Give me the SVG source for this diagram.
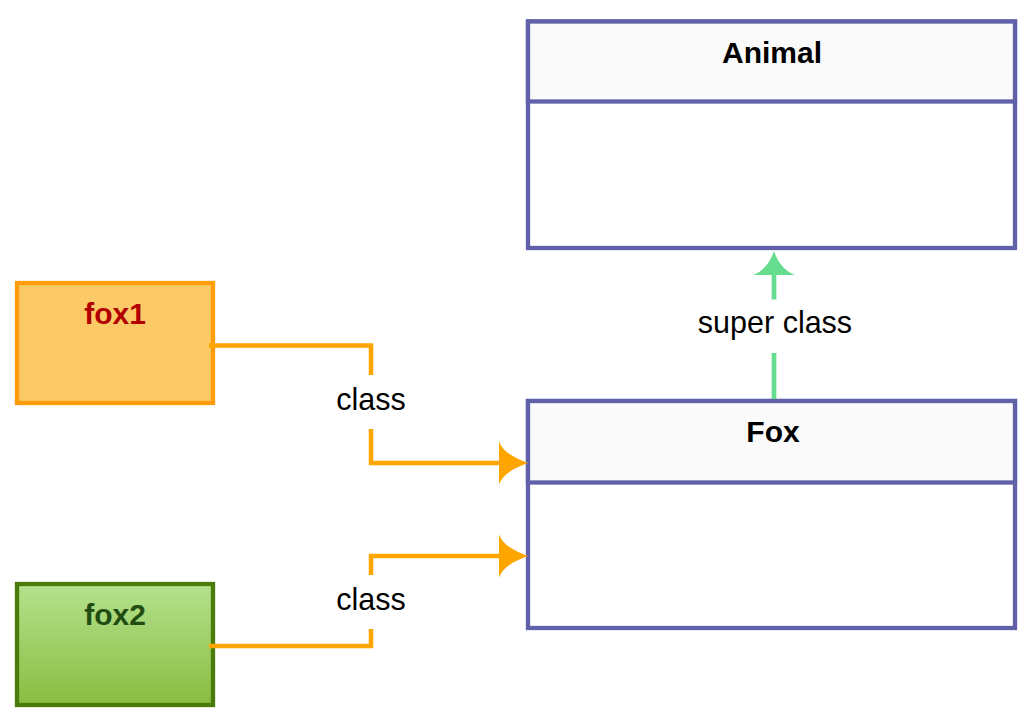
<svg xmlns="http://www.w3.org/2000/svg" width="1032" height="722" viewBox="0 0 1032 722">
  <style>
    .cls rect.box { fill: url(#bodyGrad); stroke: #6161AA; stroke-width: 4.3; }
    .cls rect.head { fill: #FAFAFA; stroke: #6161AA; stroke-width: 4.3; }
    .title { font-family: "Liberation Sans", Arial, sans-serif; font-weight: bold; font-size: 30px; text-anchor: middle; }
    .lbl { font-family: "Liberation Sans", Arial, sans-serif; font-size: 30.5px; text-anchor: middle; fill: #000; }
    .orange { fill: none; stroke: #FFA500; stroke-width: 4.5; stroke-linejoin: miter; }
    .green { fill: none; stroke: #66DD8E; stroke-width: 4.7; }
  </style>
  <defs>
    <linearGradient id="bodyGrad" x1="0" y1="0" x2="0" y2="1">
      <stop offset="0" stop-color="#F9F9F9"/>
      <stop offset="0.4" stop-color="#FFFFFF"/>
      <stop offset="1" stop-color="#FFFFFF"/>
    </linearGradient>
    <linearGradient id="greenGrad" x1="0" y1="0" x2="0" y2="1">
      <stop offset="0" stop-color="#B4E18C"/>
      <stop offset="1" stop-color="#88BD40"/>
    </linearGradient>
  </defs>
  <rect width="1032" height="722" fill="#FFFFFF"/>

  <g id="Animal" class="cls">
    <rect class="box" x="528" y="21.5" width="487" height="226.5"/>
    <rect class="head" x="528" y="21.5" width="487" height="80"/>
    <text class="title" x="772" y="62.5" fill="#000">Animal</text>
  </g>

  <g id="Fox" class="cls">
    <rect class="box" x="528" y="401" width="487" height="227"/>
    <rect class="head" x="528" y="401" width="487" height="81.5"/>
    <text class="title" x="773" y="441.5" fill="#000">Fox</text>
  </g>

  <g id="fox1">
    <rect x="17" y="283" width="196" height="120" fill="#FBC966" stroke="#FF9C0A" stroke-width="4.3"/>
    <text class="title" x="115" y="324" fill="#B20000">fox1</text>
  </g>

  <g id="fox2">
    <rect x="17" y="584" width="196" height="121" fill="url(#greenGrad)" stroke="#4B7B0A" stroke-width="4.3"/>
    <text class="title" x="115" y="625" fill="#224D12">fox2</text>
  </g>

  <g id="connectors">
    <!-- fox1 -> Fox -->
    <path class="orange" d="M209,345.5 H371 V375"/>
    <path class="orange" d="M371,429 V463 H503"/>
    <path fill="#FFA500" d="M528,463 C517,459 503,453 499,441.5 L499,484.5 C503,473 517,467 528,463 Z"/>
    <text class="lbl" x="371" y="410">class</text>

    <!-- fox2 -> Fox -->
    <path class="orange" d="M209,646 H371 V629"/>
    <path class="orange" d="M371,575 V556 H503"/>
    <path fill="#FFA500" d="M528,556 C517,552 503,546 499,534.5 L499,577.5 C503,566 517,560 528,556 Z"/>
    <text class="lbl" x="371" y="610">class</text>

    <!-- Fox -> Animal -->
    <path class="green" d="M774,399 V353"/>
    <path class="green" d="M774,299.5 V272"/>
    <path fill="#66DD8E" d="M774,251 C777.5,262 785,271.5 795,275 L753,275 C763,271.5 770.5,262 774,251 Z"/>
    <text class="lbl" x="775" y="333">super class</text>
  </g>
</svg>
